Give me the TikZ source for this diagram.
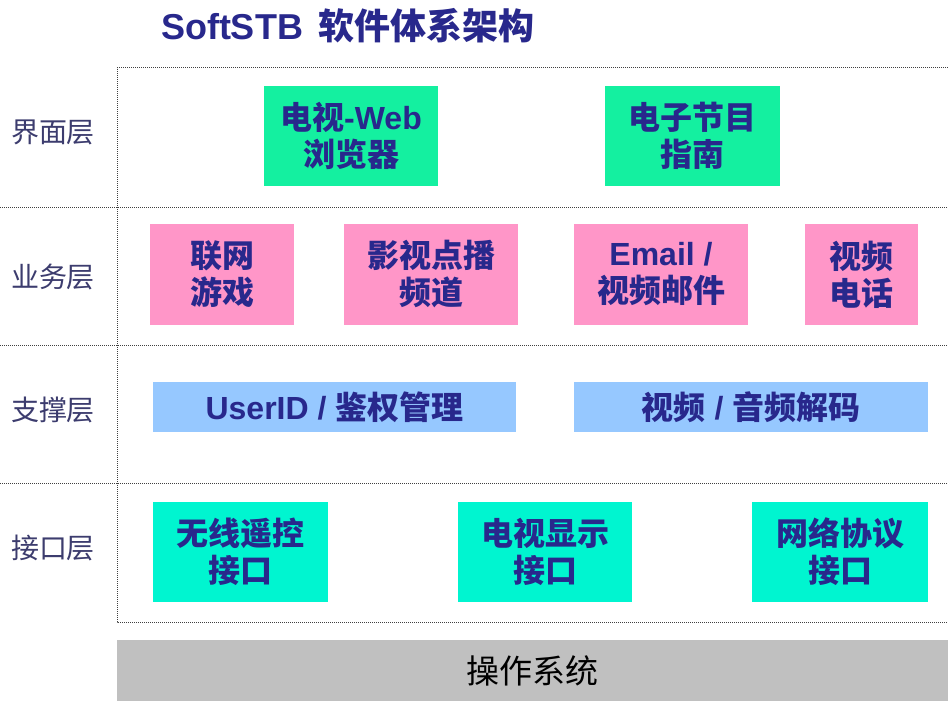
\documentclass[tikz,border=0pt]{standalone}
\usepackage{fontspec}
\setmainfont{Liberation Sans}
\newfontfamily\cjk{Noto Sans CJK SC}
\definecolor{boxtext}{RGB}{40,40,140}
\definecolor{layertext}{RGB}{60,60,110}
\definecolor{uigreen}{RGB}{20,240,160}
\definecolor{svcpink}{RGB}{255,150,200}
\definecolor{supblue}{RGB}{150,200,255}
\definecolor{ifteal}{RGB}{0,245,208}
\definecolor{osgray}{RGB}{192,192,192}
\tikzset{
  sep/.style={line width=1pt,dash pattern=on 1pt off 1pt,black!75},
  layerlabel/.style={text=layertext,font=\cjk\fontsize{28}{32}\selectfont},
  blk/.style={inner sep=0pt,align=center,text=boxtext,
    font=\bfseries\fontsize{32}{37}\selectfont},
  uibox/.style={blk,fill=uigreen,minimum width=174pt,minimum height=100pt},
  svcbox/.style={blk,fill=svcpink,minimum height=101pt},
  supbox/.style={blk,fill=supblue,minimum height=50pt},
  ifbox/.style={blk,fill=ifteal,minimum height=100pt}
}
\begin{document}
\begin{tikzpicture}[x=1pt,y=-1pt]
  \fill[white] (0,0) rectangle (948,701);
  \useasboundingbox (0,0) rectangle (948,701);
  % title
  \node[text=boxtext,font=\bfseries\fontsize{36}{42}\selectfont] (title) at (348,26)
    {SoftSTB\hspace{16pt}{\cjk 软件体系架构}};
  % frame and layer lines
  \draw[sep] (948,68) -- (117,68) -- (117,622) -- (948,622);
  \draw[sep] (0,207) -- (948,207);
  \draw[sep] (0,345) -- (948,345);
  \draw[sep] (0,483) -- (948,483);
  % layer names
  \node[layerlabel] (ui) at (53,132) {界面层};
  \node[layerlabel] (svc) at (53,277) {业务层};
  \node[layerlabel] (sup) at (53,410) {支撑层};
  \node[layerlabel] (if) at (53,548) {接口层};
  % ui layer
  \node[uibox] (web) at (351,136) {{\cjk 电视}-Web\\{\cjk 浏览器}};
  \node[uibox,minimum width=175pt] (epg) at (692,136) {{\cjk 电子节目}\\{\cjk 指南}};
  % service layer
  \node[svcbox,minimum width=144pt] (game) at (222,274.5) {{\cjk 联网}\\{\cjk 游戏}};
  \node[svcbox,minimum width=174pt] (vod) at (431,274.5) {{\cjk 影视点播}\\{\cjk 频道}};
  \node[svcbox,minimum width=174pt] (mail) at (661,274.5) {Email /\\{\cjk 视频邮件}};
  \node[svcbox,minimum width=113pt] (phone) at (861.5,274.5) {{\cjk 视频}\\{\cjk 电话}};
  % support layer
  \node[supbox,minimum width=363pt] (auth) at (334.5,407) {UserID / {\cjk 鉴权管理}};
  \node[supbox,minimum width=354pt] (codec) at (751,407) {{\cjk 视频} / {\cjk 音频解码}};
  % interface layer
  \node[ifbox,minimum width=175pt] (remote) at (240.5,552) {{\cjk 无线遥控}\\{\cjk 接口}};
  \node[ifbox,minimum width=174pt] (tv) at (545,552) {{\cjk 电视显示}\\{\cjk 接口}};
  \node[ifbox,minimum width=176pt] (net) at (840,552) {{\cjk 网络协议}\\{\cjk 接口}};
  % os
  \node[fill=osgray,inner sep=0pt,minimum width=831pt,minimum height=61pt,
    font=\cjk\fontsize{33}{38}\selectfont] (os) at (532.5,670.5) {操作系统};
\end{tikzpicture}
\end{document}
